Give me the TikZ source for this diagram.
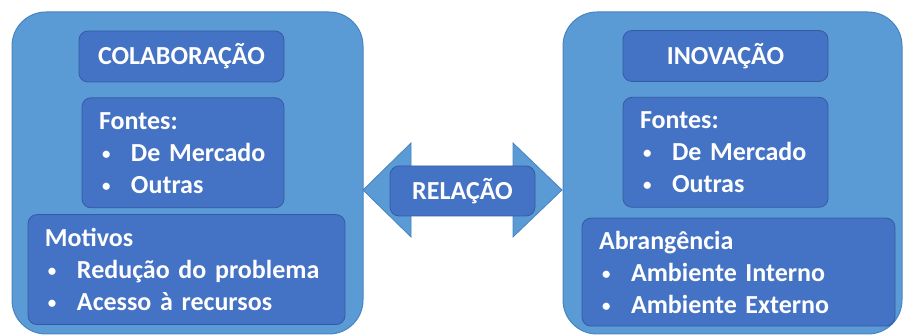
\documentclass[tikz,border=0pt]{standalone}
\usepackage{fontspec}
\setmainfont{Carlito}
\usepackage{xcolor}
\definecolor{ltblue}{RGB}{91,155,213}
\definecolor{ltedge}{RGB}{72,132,192}
\definecolor{dkblue}{RGB}{68,114,196}
\definecolor{dkedge}{RGB}{52,92,165}
\usetikzlibrary{positioning}
\newcommand{\bitem}[1]{\\\hspace*{3pt}\makebox[29pt][l]{\raisebox{2pt}{\scalebox{0.65}{\textbullet}}}#1}
\tikzset{
  outerbox/.style={
    rectangle, draw=ltedge, fill=ltblue, line width=1pt,
    rounded corners=34pt, inner sep=0pt},
  titlebox/.style={
    rectangle, draw=dkedge, fill=dkblue, line width=0.8pt,
    rounded corners=9pt, text=white, minimum height=51pt,
    text height=17pt, text depth=0pt,
    font=\bfseries\fontsize{26}{32}\selectfont},
  listbox/.style={
    rectangle, draw=dkedge, fill=dkblue, line width=0.8pt,
    rounded corners=9pt, text=white, minimum height=110pt,
    align=left, inner xsep=17pt, inner ysep=0pt,
    font=\bfseries\fontsize{26}{32}\selectfont},
  linkarrow/.style={fill=ltblue, draw=ltedge, line width=0.8pt},
}
\begin{document}
\begin{tikzpicture}[x=1pt, y=-1pt]
  \useasboundingbox (0,0) rectangle (903,336);
  % two big panels
  \node[outerbox, minimum width=351pt, minimum height=322pt] (lout) at (187.5,173) {};
  \node[outerbox, minimum width=339pt, minimum height=322pt] (rout) at (732.5,173) {};
  % left panel
  \node[titlebox, minimum width=205pt] (colab) at (181.5,56.5) {COLABORAÇÃO};
  \node[listbox, text width=168pt, below=15pt of colab, xshift=1.5pt] (lfont)
    {Fontes:\bitem{De Mercado}\bitem{Outras}};
  \node[listbox, text width=283pt, below=6pt of lfont, xshift=3.5pt] (motivo)
    {Motivos\bitem{Redução do problema}\bitem{Acesso à recursos}};
  % right panel
  \node[titlebox, minimum width=205pt] (inov) at (725.5,56) {INOVAÇÃO};
  \node[listbox, text width=171pt, below=15pt of inov] (rfont)
    {Fontes:\bitem{De Mercado}\bitem{Outras}};
  \node[listbox, text width=279pt, minimum height=108pt, below=10pt of rfont,
        xshift=13pt] (abrang)
    {Abrangência\bitem{Ambiente Interno}\bitem{Ambiente Externo}};
  % double arrow between panels
  \coordinate (mid) at (462.5,190);
  \draw[linkarrow] (mid) ++(-99.5,0) -- ++(48,-47) -- ++(0,24) -- ++(102,0)
    -- ++(0,-24) -- ++(49,47) -- ++(-49,47) -- ++(0,-24) -- ++(-102,0)
    -- ++(0,24) -- cycle;
  \node[titlebox, minimum width=145pt, minimum height=50pt] (rel) at (462.5,191) {RELAÇÃO};
\end{tikzpicture}
\end{document}
